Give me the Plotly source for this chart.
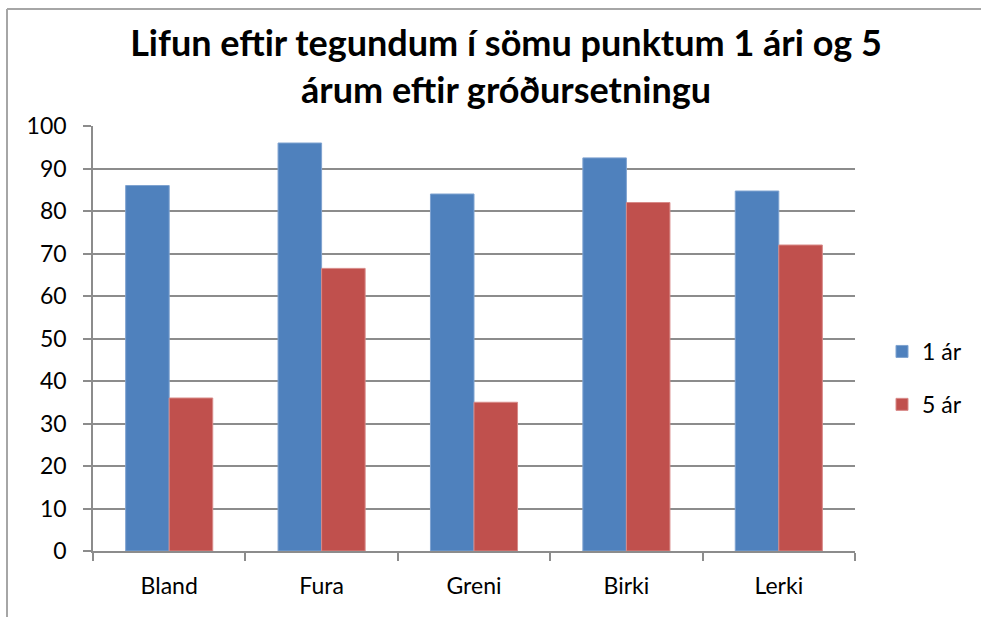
import plotly.graph_objects as go

categories = ["Bland", "Fura", "Greni", "Birki", "Lerki"]
series_names = ["1 ár", "5 ár"]
values_1ar = [86, 96, 84, 92.5, 84.7]
values_5ar = [36, 66.5, 35, 82, 72]
y_ticks = [0, 10, 20, 30, 40, 50, 60, 70, 80, 90, 100]

W, H = 981, 617
L, R, T, B = 93, 126, 126, 66

FONT = "Lato, 'Open Sans', sans-serif"

fig = go.Figure()
fig.add_trace(go.Bar(x=categories, y=values_1ar, name=series_names[0],
                     marker=dict(color="#4F81BD", line=dict(color="#7FA3D0", width=1)),
                     legendgroup="a"))
fig.add_trace(go.Bar(x=categories, y=values_5ar, name=series_names[1],
                     marker=dict(color="#C0504D", line=dict(color="#D88A88", width=1)),
                     legendgroup="b"))

def px_x(p):
    return (p - L) / (W - L - R)

def px_y(p):
    return (H - B - p) / (H - T - B)

fig.update_layout(
    width=W, height=H,
    margin=dict(l=L, r=R, t=T, b=B, autoexpand=False),
    paper_bgcolor="white", plot_bgcolor="white",
    barmode="group", bargap=0.4286, bargroupgap=0,
    font=dict(family=FONT, size=23, color="#000000"),
    title=dict(text="Lifun eftir tegundum í sömu punktum 1 ári og 5<br>árum eftir gróðursetningu",
               font=dict(family=FONT, size=36, color="#000000", weight="bold"),
               x=506 / W, xanchor="center", xref="container",
               y=1 - 56 / H, yanchor="middle", yref="container"),
    showlegend=True,
    legend=dict(x=px_x(882), xanchor="left", y=px_y(378), yanchor="middle",
                font=dict(family=FONT, size=23, color="#000000"),
                traceorder="grouped", tracegroupgap=20,
                bgcolor="rgba(0,0,0,0)"),
    xaxis=dict(showgrid=False, showline=True, linecolor="#8C8C8C", linewidth=1.5,
               ticks="outside", ticklen=8, tickcolor="#8C8C8C", tickwidth=1.5,
               tickson="boundaries", tickfont=dict(size=23, family=FONT), mirror=False,
               ticklabelstandoff=14),
    yaxis=dict(range=[0, 100], tickvals=y_ticks, showgrid=True, gridcolor="#8C8C8C",
               gridwidth=1.5, showline=True, linecolor="#8C8C8C", linewidth=1.5,
               ticks="outside", ticklen=8, tickcolor="#8C8C8C", tickwidth=1.5,
               tickfont=dict(size=23, family=FONT), zeroline=False,
               ticklabelstandoff=12),
)

# chart-area frame: only top and left edges are visible in the reference
fig.add_shape(type="line", xref="paper", yref="paper",
              x0=px_x(7), x1=px_x(990), y0=px_y(9), y1=px_y(9),
              line=dict(color="#A6A6A6", width=2))
fig.add_shape(type="line", xref="paper", yref="paper",
              x0=px_x(7), x1=px_x(7), y0=px_y(9), y1=px_y(630),
              line=dict(color="#A6A6A6", width=2))

fig.write_html("out.html", config={"displayModeBar": False},
               post_script="document.body.style.margin='0';")
